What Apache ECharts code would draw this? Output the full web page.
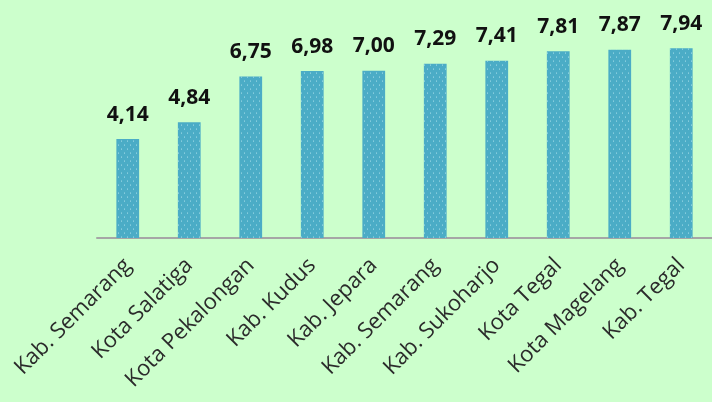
<!DOCTYPE html>
<html><head><meta charset="utf-8">
<script src="https://cdn.jsdelivr.net/npm/echarts@6/dist/echarts.min.js"></script>
<style>html,body{margin:0;padding:0;background:#CCFFCC;}#c{width:712px;height:402px;}</style>
</head><body><div id="c"></div>
<script>
const categories = ['Kab. Semarang','Kota Salatiga','Kota Pekalongan','Kab. Kudus','Kab. Jepara','Kab. Semarang','Kab. Sukoharjo','Kota Tegal','Kota Magelang','Kab. Tegal'];
const values = [4.14, 4.84, 6.75, 6.98, 7.00, 7.29, 7.41, 7.81, 7.87, 7.94];

const chart = echarts.init(document.getElementById('c'));
chart.setOption({
  backgroundColor: '#CCFFCC',
  animation: false,
  grid: {left: 97, right: -3, top: 30, height: 208},
  xAxis: {
    type: 'category', data: categories,
    axisLine: {lineStyle: {color: '#A6A6A6', width: 2}},
    axisTick: {show: false},
    axisLabel: {rotate: 45, interval: 0, fontFamily: 'Open Sans', fontSize: 22, color: '#2b2b2b', margin: 24}
  },
  yAxis: {type: 'value', min: 0, max: 8.7, show: false, splitLine: {show: false}},
  series: [{
    type: 'bar', data: values, barWidth: '37%',
    itemStyle: {
      color: '#4BACC6',
      decal: {symbol: 'circle', symbolSize: 0.5, color: 'rgba(220,250,255,0.9)', dashArrayX: [[3, 3], [0, 3, 3, 0]], dashArrayY: [2, 2]}
    },
    label: {show: true, position: 'top', distance: 14, fontFamily: 'Open Sans', fontWeight: 'bold', fontSize: 21, color: '#111',
      formatter: p => p.value.toFixed(2).replace('.', ',')}
  }]
});
</script></body></html>
